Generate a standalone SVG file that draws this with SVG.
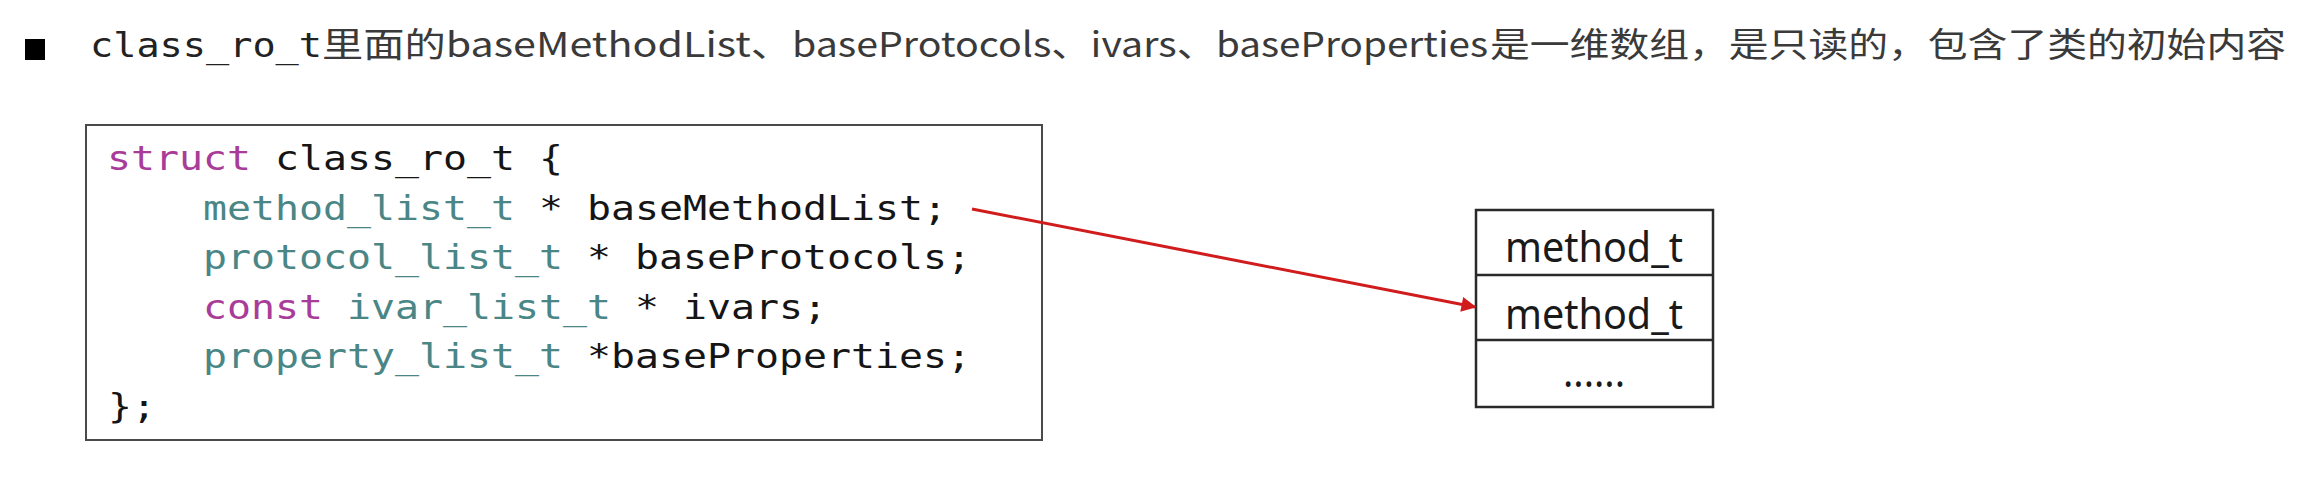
<svg xmlns="http://www.w3.org/2000/svg" width="2302" height="480" viewBox="0 0 2302 480">
  <defs>
    <style>
      .title { font-family: "Noto Sans CJK SC", "Noto Sans", sans-serif; font-size: 34px; fill: #3a3a3a; }
      .mono { font-family: "DejaVu Sans Mono", "Liberation Mono", monospace; font-size: 34px; fill: #151515; }
      .kw { fill: #a83c98; }
      .ty { fill: #4a8686; }
      .cell { font-family: "Noto Sans", "Liberation Sans", sans-serif; font-size: 42px; fill: #1a1a1a; }
      .box { fill: #ffffff; stroke: #4a4a4a; stroke-width: 2; }
      .tbl { fill: #ffffff; stroke: #2a2a2a; stroke-width: 2.5; }
      .conn { stroke: #d01c1c; stroke-width: 3; fill: none; }
    </style>
    <marker id="arrow" viewBox="0 0 10 10" refX="9" refY="5" markerWidth="6" markerHeight="5" orient="auto" markerUnits="strokeWidth">
      <path d="M0,0 L10,5 L0,10 z" fill="#d01c1c"/>
    </marker>
  </defs>
  <rect x="0" y="0" width="2302" height="480" fill="#ffffff"/>

  <g id="title">
    <rect x="25" y="39" width="20" height="21" fill="#000000"/>
    <text class="mono" x="90" y="57" font-size="32" textLength="232" lengthAdjust="spacingAndGlyphs" style="fill:#222">class_ro_t</text>
    <text class="title" x="322" y="57" textLength="470" lengthAdjust="spacingAndGlyphs">里面的baseMethodList、</text>
    <text class="title" x="792" y="57" textLength="424" lengthAdjust="spacingAndGlyphs">baseProtocols、ivars、</text>
    <text class="title" x="1216" y="57" textLength="272" lengthAdjust="spacingAndGlyphs">baseProperties</text>
    <text class="title" x="1490" y="57" textLength="796" lengthAdjust="spacingAndGlyphs">是一维数组，是只读的，包含了类的初始内容</text>
  </g>

  <g id="class_ro_t">
    <rect class="box" x="86" y="125" width="956" height="315"/>
    <text class="mono" x="107" y="170" textLength="456" lengthAdjust="spacingAndGlyphs"><tspan class="kw">struct</tspan> class_ro_t {</text>
    <text class="mono" x="203" y="219.5" textLength="744" lengthAdjust="spacingAndGlyphs"><tspan class="ty">method_list_t</tspan> * baseMethodList;</text>
    <text class="mono" x="203" y="269" textLength="768" lengthAdjust="spacingAndGlyphs"><tspan class="ty">protocol_list_t</tspan> * baseProtocols;</text>
    <text class="mono" x="203" y="318.5" textLength="624" lengthAdjust="spacingAndGlyphs"><tspan class="kw">const</tspan> <tspan class="ty">ivar_list_t</tspan> * ivars;</text>
    <text class="mono" x="203" y="368" textLength="768" lengthAdjust="spacingAndGlyphs"><tspan class="ty">property_list_t</tspan> *baseProperties;</text>
    <text class="mono" x="108" y="417.5" textLength="48" lengthAdjust="spacingAndGlyphs">};</text>
  </g>

  <g id="method_list">
    <rect class="tbl" x="1476" y="210" width="237" height="197"/>
    <line class="tbl" x1="1476" y1="275" x2="1713" y2="275"/>
    <line class="tbl" x1="1476" y1="340" x2="1713" y2="340"/>
    <text class="cell" x="1505" y="262" textLength="178" lengthAdjust="spacingAndGlyphs">method_t</text>
    <text class="cell" x="1505" y="329" textLength="178" lengthAdjust="spacingAndGlyphs">method_t</text>
    <text class="cell" x="1563" y="387" textLength="62" lengthAdjust="spacingAndGlyphs">......</text>
  </g>

  <g id="connectors">
    <line class="conn" x1="972" y1="209" x2="1475" y2="307" marker-end="url(#arrow)"/>
  </g>
</svg>
